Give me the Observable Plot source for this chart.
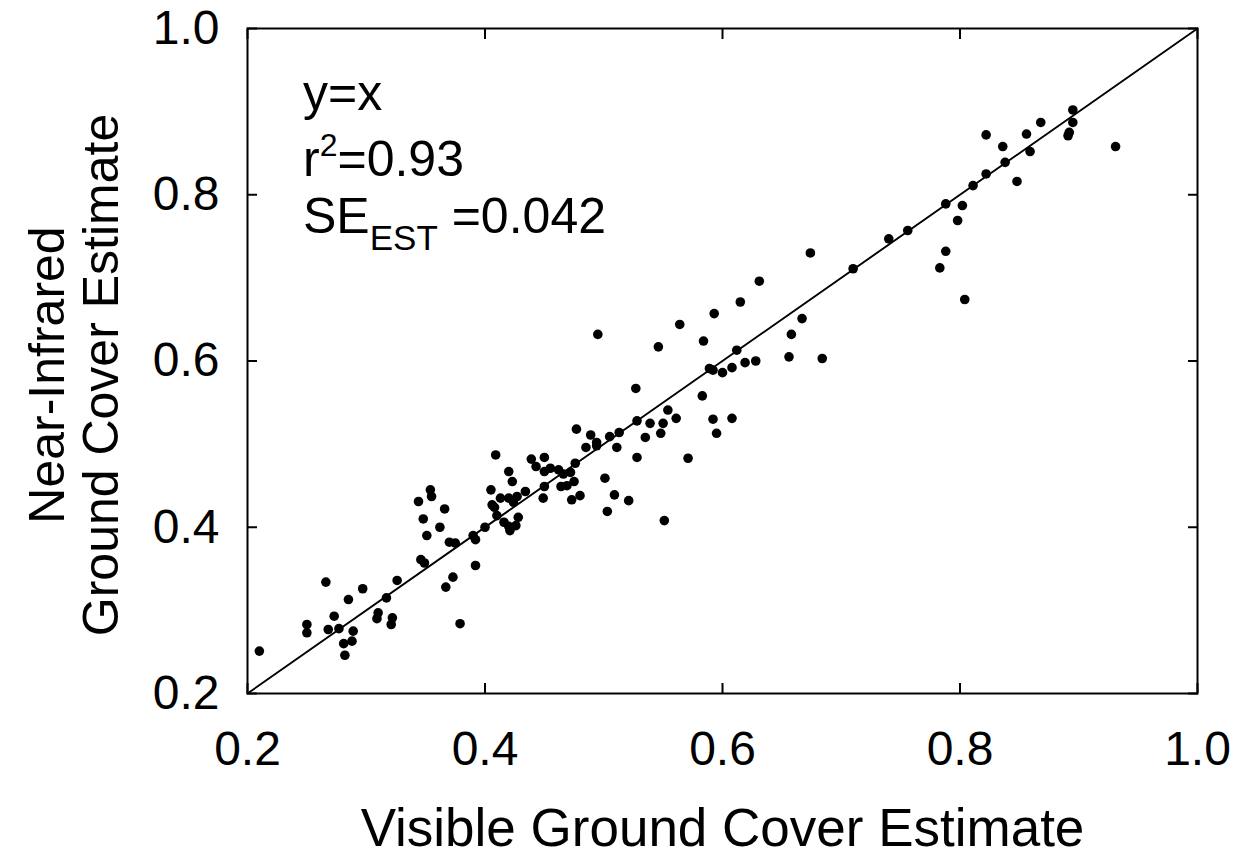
<!DOCTYPE html>
<html><head><meta charset="utf-8">
<script src="https://cdn.jsdelivr.net/npm/d3@7"></script>
<script src="https://cdn.jsdelivr.net/npm/@observablehq/plot@0.6"></script>
<style>body{margin:0;background:#fff} svg{display:block}</style>
</head><body><div id="chart"></div>
<script>
// Visible ground cover estimate (x) for each sample
const visible = [
  0.210,0.250,0.250,0.266,0.268,0.273,0.277,0.281,0.282,0.288,0.289,0.285,0.297,0.309,0.310,0.317,0.321,0.322,0.326,
  0.344,0.354,0.355,0.348,0.351,0.366,0.362,0.346,0.349,0.370,0.375,0.367,0.373,0.379,0.390,0.392,0.392,
  0.409,0.439,0.450,0.443,0.450,0.455,0.462,0.466,0.472,0.476,0.420,0.423,0.464,0.469,0.475,0.450,0.405,0.413,0.420,
  0.427,0.434,0.424,0.449,0.473,0.480,0.406,0.408,0.410,0.428,0.416,0.420,0.426,0.421,0.400,
  0.501,0.509,0.521,0.503,0.477,0.489,0.485,0.494,0.494,0.505,0.513,0.511,0.528,0.528,
  0.495,0.546,0.564,0.593,0.615,0.631,0.584,0.658,0.656,0.667,0.612,0.589,0.592,0.600,0.608,0.619,0.628,0.684,
  0.527,0.583,0.554,0.561,0.539,0.550,0.548,0.535,0.592,0.608,0.595,0.571,0.551,
  0.895,0.895,0.892,0.891,0.868,0.856,0.822,0.836,0.859,0.931,0.838,0.822,0.848,0.811,0.788,0.802,0.798,0.756,0.740,
  0.788,0.783,0.710,0.804,0.674
];
// Near-infrared ground cover estimate (y) for each sample
const nir = [
  0.251,0.283,0.273,0.334,0.277,0.293,0.278,0.260,0.246,0.263,0.275,0.313,0.326,0.290,0.297,0.315,0.283,0.291,0.336,
  0.431,0.445,0.437,0.410,0.390,0.422,0.400,0.361,0.357,0.382,0.381,0.328,0.340,0.284,0.390,0.385,0.354,
  0.487,0.482,0.484,0.473,0.467,0.471,0.469,0.464,0.466,0.477,0.467,0.455,0.449,0.450,0.455,0.449,0.445,0.435,0.435,
  0.437,0.443,0.430,0.435,0.433,0.438,0.427,0.424,0.414,0.412,0.406,0.401,0.402,0.396,0.400,
  0.459,0.439,0.432,0.419,0.518,0.511,0.496,0.502,0.498,0.509,0.514,0.496,0.528,0.484,
  0.632,0.617,0.644,0.657,0.671,0.696,0.624,0.632,0.605,0.651,0.613,0.591,0.589,0.586,0.592,0.598,0.600,0.603,
  0.567,0.558,0.541,0.531,0.525,0.525,0.513,0.508,0.530,0.531,0.513,0.483,0.408,
  0.902,0.887,0.875,0.871,0.887,0.873,0.872,0.858,0.852,0.858,0.839,0.825,0.816,0.811,0.789,0.787,0.769,0.757,0.747,
  0.732,0.712,0.711,0.674,0.730
];
const xTicks = [0.2, 0.4, 0.6, 0.8, 1.0];
const yTicks = [0.2, 0.4, 0.6, 0.8, 1.0];
const tickLabels = ["0.2", "0.4", "0.6", "0.8", "1.0"];
const identityLine = [0.2, 1.0];
const xLabel = "Visible Ground Cover Estimate";
const yLabelLines = ["Near-Infrared", "Ground Cover Estimate"];
const fitLabel = "y=x";
const r2Value = "0.93";
const seValue = "0.042";

const points = visible.map((x, i) => ({x, y: nir[i]}));
const font = "'Liberation Sans', Arial, Helvetica, sans-serif";
const fmt = d => tickLabels[xTicks.findIndex(t => Math.abs(t - d) < 1e-9)];

const plot = Plot.plot({
  width: 1247, height: 861,
  marginLeft: 247, marginRight: 50, marginTop: 28, marginBottom: 168,
  style: {fontFamily: font, background: "#fff", color: "#000", overflow: "visible"},
  x: {domain: [0.2, 1.0]},
  y: {domain: [0.2, 1.0]},
  marks: [
    Plot.line(identityLine.map(v => [v, v]), {stroke: "#000", strokeWidth: 1.9}),
    Plot.dot(points, {x: "x", y: "y", r: 4.8, fill: "#000", stroke: "none"}),
    Plot.frame({stroke: "#000", strokeWidth: 2}),
    Plot.axisX(xTicks, {anchor: "bottom", tickSize: -10, strokeWidth: 2, tickFormat: () => "", label: null}),
    Plot.axisX(xTicks, {anchor: "top", tickSize: -10, strokeWidth: 2, tickFormat: () => "", label: null}),
    Plot.axisY(yTicks, {anchor: "left", tickSize: -10, strokeWidth: 2, tickFormat: () => "", label: null}),
    Plot.axisY(yTicks, {anchor: "right", tickSize: -10, strokeWidth: 2, tickFormat: () => "", label: null}),
    Plot.axisX(xTicks, {anchor: "bottom", tickSize: 0, tickPadding: 37, tickFormat: fmt, fontSize: 48, label: null}),
    Plot.axisY(yTicks, {anchor: "left", tickSize: 0, tickPadding: 28, tickFormat: fmt, fontSize: 48, label: null}),
    Plot.text([xLabel], {frameAnchor: "bottom", dy: 152, fontSize: 53, fill: "#000"}),
    Plot.text([yLabelLines.join("\n")], {frameAnchor: "left", textAnchor: "middle", dx: -174, dy: 14, rotate: -90, fontSize: 50, lineHeight: 1.08, fill: "#000"})
  ]
});

const svg = d3.select(plot);
const g = svg.append("g").attr("font-family", font).attr("font-size", 50).attr("fill", "#000").attr("text-anchor", "start");
const ax = 303;
g.append("text").attr("x", ax).attr("y", 110).text(fitLabel);
const t2 = g.append("text").attr("x", ax).attr("y", 176);
t2.append("tspan").text("r");
t2.append("tspan").attr("font-size", 32).attr("dy", -20).text("2");
t2.append("tspan").attr("dy", 20).text("=" + r2Value);
const t3 = g.append("text").attr("x", ax).attr("y", 233);
t3.append("tspan").text("SE");
t3.append("tspan").attr("font-size", 35).attr("dy", 17).text("EST");
t3.append("tspan").attr("dy", -17).text(" =" + seValue);

document.getElementById("chart").appendChild(plot);
</script>
</body></html>
